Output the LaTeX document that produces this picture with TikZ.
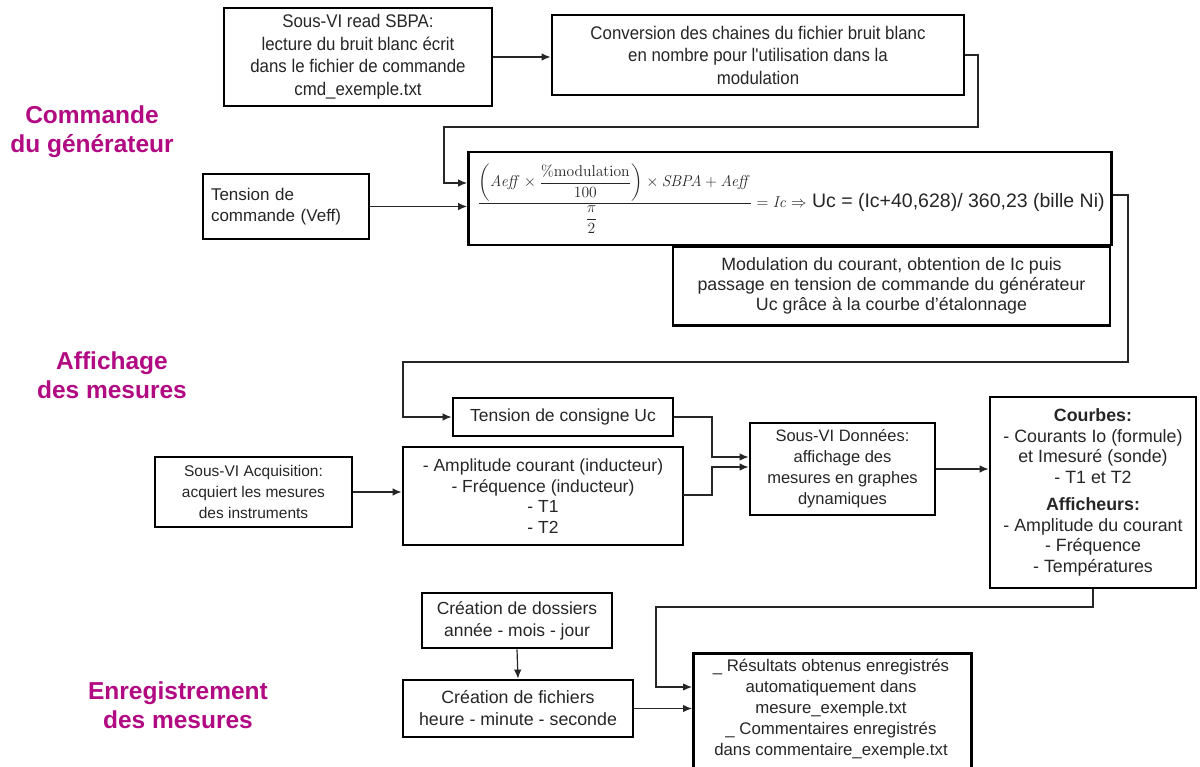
\documentclass[tikz,border=0pt]{standalone}
\usepackage{amsmath}
\usepackage{graphicx}
\usepackage[no-math]{fontspec}
\setmainfont{Liberation Sans}
\newfontfamily\narrowfont{Liberation Sans}[FakeStretch=0.92]
\usetikzlibrary{arrows.meta,calc}
\definecolor{headc}{RGB}{178,10,130}
\newcommand{\fs}[2]{\fontsize{#1}{#2}\selectfont}
\tikzset{
  box/.style={draw=black, line width=2.8pt, align=center, inner sep=2pt,
    font=\fs{15.5}{21}, text=black!85},
  nbox/.style={box, font=\narrowfont\fs{18.3}{22.5}},
  link/.style={line width=1.2pt, draw=black!85},
  arr/.style={link, -{Latex[length=9pt,width=7.5pt]}},
  heading/.style={align=center, text=headc, font=\fs{24.5}{29}\bfseries}
}
\begin{document}
\begin{tikzpicture}[x=1pt,y=-1pt]
\useasboundingbox (0,0) rectangle (1200,767);
\fill[white] (0,0) rectangle (1200,767);

% headings
\node[heading] (h1) at (92,132) {Commande\\du générateur};
\node[heading] (h2) at (112,375) {Affichage\\des mesures};
\node[heading] (h3) at (178,705) {Enregistrement\\des mesures};

% boxes
\node[nbox, minimum width=268, minimum height=98] (sbpa) at (358,57)
  {Sous-VI read SBPA:\\lecture du bruit blanc écrit\\dans le fichier de commande\\cmd\_exemple.txt};
\node[nbox, minimum width=412, minimum height=80] (conv) at (758,55)
  {Conversion des chaines du fichier bruit blanc\\en nombre pour l'utilisation dans la\\modulation};
\node[box, minimum width=643, minimum height=93] (form) at (790,198.5) {};
\node[anchor=west, inner sep=0, text=black!85] (fcontent) at (477,199)
  {\scalebox{1.3}{\fs{12}{14}$\dfrac{\left(\mathit{Aeff}\times\dfrac{\%\mathrm{modulation}}{100}\right)\times \mathit{SBPA}+\mathit{Aeff}}{\dfrac{\pi}{2}\hspace{36pt}}
   = \mathit{Ic}\Rightarrow$}\fs{19.5}{22}\ Uc = (Ic+40,628)/ 360,23 (bille Ni)};
\node[box, align=left, minimum width=166, minimum height=65, text width=150, font=\fs{17}{21}] (tcmd) at (286,206.5)
  {Tension de\\commande (Veff)};
\node[box, minimum width=437, minimum height=79, font=\fs{17.8}{20}] (modu) at (891.5,286)
  {Modulation du courant, obtention de Ic puis\\passage en tension de commande du générateur\\Uc grâce à la courbe d'étalonnage};
\node[box, minimum width=220, minimum height=38, font=\fs{17.5}{21}] (cons) at (563,417) {Tension de consigne Uc};
\node[box, minimum width=197, minimum height=70] (acq) at (253.5,492)
  {Sous-VI Acquisition:\\acquiert les mesures\\des instruments};
\node[box, minimum width=280, minimum height=98, font=\fs{17.5}{20.5}] (ampl) at (543,496)
  {- Amplitude courant (inducteur)\\- Fréquence (inducteur)\\- T1\\- T2};
\node[box, minimum width=185, minimum height=92, font=\fs{16.5}{21}] (donn) at (842.5,469)
  {Sous-VI Données:\\affichage des\\mesures en graphes\\dynamiques};
\node[box, minimum width=206, minimum height=191, font=\fs{17.8}{20.5}] (courb) at (1093,492.5)
  {\textbf{Courbes:}\\- Courants Io (formule)\\et Imesuré (sonde)\\- T1 et T2\\[7pt]\textbf{Afficheurs:}\\- Amplitude du courant\\- Fréquence\\- Températures};
\node[box, minimum width=190, minimum height=55, font=\fs{17.5}{22}] (doss) at (517,620.5)
  {Création de dossiers\\année - mois - jour};
\node[box, minimum width=230, minimum height=57, font=\fs{17.8}{22}] (fich) at (518,708.5)
  {Création de fichiers\\heure - minute - seconde};
\node[box, minimum width=278, minimum height=200, anchor=north west] (resu) at (692,652) {};
\node[anchor=north, inner sep=0, align=center, font=\fs{16.8}{21}, text=black!85] (resut) at (831,659)
  {\_ Résultats obtenus enregistrés\\automatiquement dans\\mesure\_exemple.txt\\\_ Commentaires enregistrés\\dans commentaire\_exemple.txt};

% coordinates for connectors
\coordinate (c1a) at (978,55);
\coordinate (c1b) at (978,127);
\coordinate (c1c) at (444,127);
\coordinate (c1d) at (444,183);
\coordinate (c2a) at (1128,195);
\coordinate (c2b) at (1128,362);
\coordinate (c2c) at (403,362);
\coordinate (c2d) at (403,417);
\coordinate (c3a) at (712,417);
\coordinate (c3b) at (712,457);
\coordinate (c4a) at (683,495);
\coordinate (c4b) at (712,495);
\coordinate (c4c) at (712,467);
\coordinate (c5a) at (1093,607);
\coordinate (c5b) at (656,607);
\coordinate (c5c) at (656,687);

% connectors
\draw[arr] (sbpa.east) -- (sbpa.east -| conv.west);
\draw[arr] (conv.east) -- (c1a) -- (c1b) -- (c1c) -- (c1d) -- (c1d -| form.west);
\draw[arr] (tcmd.east) -- (tcmd.east -| form.west);
\draw[arr] (form.east |- c2a) -- (c2a) -- (c2b) -- (c2c) -- (c2d) -- (cons.west);
\draw[arr] (cons.east) -- (c3a) -- (c3b) -- (c3b -| donn.west);
\draw[arr] (c4a) -- (c4b) -- (c4c) -- (c4c -| donn.west);
\draw[arr] (acq.east) -- (acq.east -| ampl.west);
\draw[arr] (donn.east) -- (donn.east -| courb.west);
\draw[arr] (courb.south) -- (c5a) -- (c5b) -- (c5c) -- (c5c -| resu.west);
\draw[arr] (doss.south) -- (fich.north);
\draw[arr] (fich.east) -- (fich.east -| resu.west);
\end{tikzpicture}
\end{document}
